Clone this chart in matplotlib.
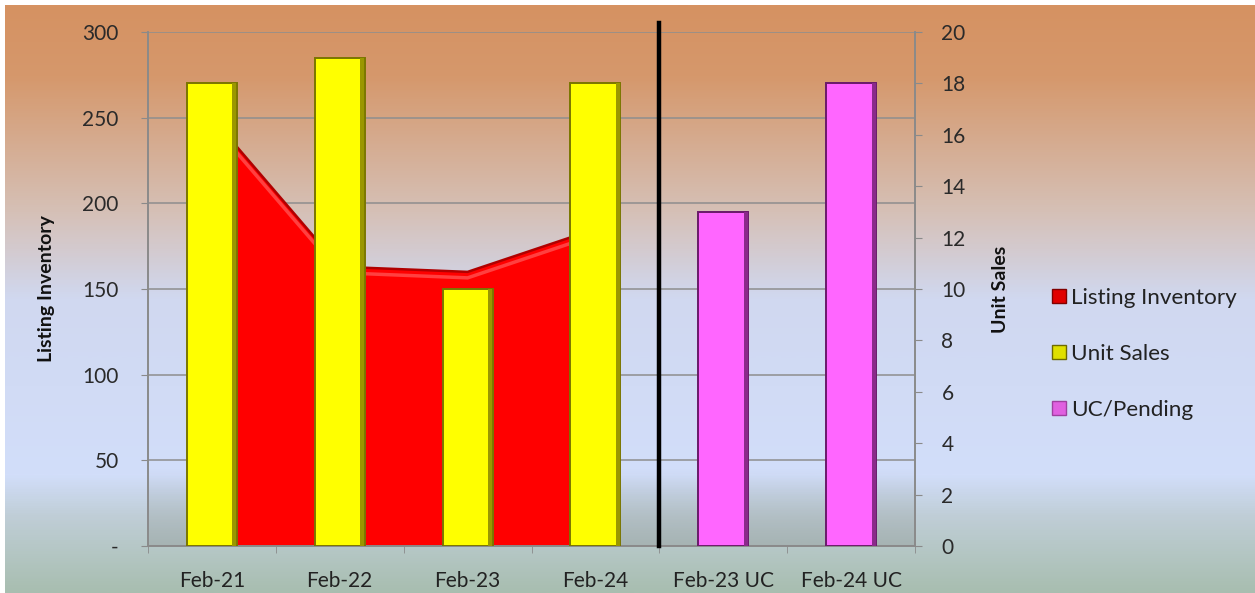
import numpy as np
import matplotlib
matplotlib.use("Agg")
import matplotlib.pyplot as plt
from matplotlib.patches import Patch
from matplotlib.colors import LinearSegmentedColormap

# ---------------- data ----------------
categories = ["Feb-21", "Feb-22", "Feb-23", "Feb-24", "Feb-23 UC", "Feb-24 UC"]
listing_inventory = [250, 163, 160, 185]          # left axis, first four categories
unit_sales = [18, 19, 10, 18]                     # right axis, first four categories
uc_pending = [13, 18]                             # right axis, last two categories
left_ticks = [0, 50, 100, 150, 200, 250, 300]
left_ticklabels = ["-", "50", "100", "150", "200", "250", "300"]
right_ticks = list(range(0, 21, 2))

plt.rcParams['font.family'] = ['Lato', 'DejaVu Sans']

W, H = 1255, 593
fig = plt.figure(figsize=(W / 100, H / 100), dpi=100)
fig.patch.set_facecolor("white")

# ---------------- background gradient ----------------
bg = fig.add_axes([5 / W, 0, 1 - 5 / W, 1 - 5 / H], zorder=-10)
stops = [
    (0.00, (214, 146, 98)),
    (0.12, (213, 152, 108)),
    (0.35, (214, 192, 182)),
    (0.50, (208, 216, 240)),
    (0.80, (210, 222, 250)),
    (0.87, (192, 206, 215)),
    (1.00, (168, 190, 176)),
]
cmap_bg = LinearSegmentedColormap.from_list(
    "bg", [(p, tuple(c / 255 for c in col)) for p, col in stops])
grad = np.linspace(0, 1, 600).reshape(-1, 1)
bg.imshow(grad, aspect="auto", cmap=cmap_bg, extent=[0, 1, 0, 1], origin="upper")
bg.set_axis_off()

# ---------------- main axes ----------------
L, R, B, T = 148 / W, 915 / W, 1 - 546 / H, 1 - 32 / H
ax1 = fig.add_axes([L, B, R - L, T - B])
ax1.set_facecolor("none")
ax2 = ax1.twinx()
ax2.set_facecolor("none")

x = np.arange(len(categories))

# subtle darker band at bottom of plot area
shade = np.zeros((100, 2, 4))
shade[..., 0] = 0.60
shade[..., 1] = 0.64
shade[..., 2] = 0.64
shade[..., 3] = np.linspace(0.55, 0.0, 100)[:, None]
ax1.imshow(shade, aspect="auto", extent=[-0.5, len(categories) - 0.5, 0, 45],
           origin="lower", zorder=0)
ax1.set_xlim(-0.5, len(categories) - 0.5)
ax1.set_ylim(0, 300)
ax2.set_ylim(0, 20)

# gridlines
ax1.set_yticks(left_ticks)
ax1.set_yticklabels(left_ticklabels)
ax1.grid(axis="y", color="#8e8e8e", linewidth=1.1, zorder=0.5)
ax1.set_axisbelow(True)

# area for listing inventory
xa = x[:len(listing_inventory)]
ax1.fill_between(xa, 0, listing_inventory, facecolor="#FF0000", edgecolor="none", zorder=2)
ax1.plot(xa, listing_inventory, color="#B00000", linewidth=1.8, zorder=2.1)
ax1.plot(xa, np.array(listing_inventory) - 3.5, color="#FF4040", linewidth=2.5, zorder=2.2)

# bars
bw = 0.39
xs = x[:len(unit_sales)]
xu = x[len(unit_sales):len(unit_sales) + len(uc_pending)]
ax2.bar(xs, unit_sales, width=bw, color="#FFFF00", edgecolor="#7A7600", linewidth=1.4, zorder=3)
ax2.bar(xu, uc_pending, width=bw, color="#FF66FF", edgecolor="#6A1A6A", linewidth=1.4, zorder=3)
# 3D-ish darker right side
ax2.bar(xs + bw * 0.45, unit_sales, width=bw * 0.08, color="#9A9700", edgecolor="none", zorder=3.1)
ax2.bar(xu + bw * 0.45, uc_pending, width=bw * 0.08, color="#8A2A8A", edgecolor="none", zorder=3.1)

# separator line
ax2.plot([3.5, 3.5], [0, 20.35], color="black", linewidth=3.2, clip_on=False, zorder=5)

# ---------------- axes styling ----------------
for ax in (ax1, ax2):
    ax.spines["top"].set_visible(False)
    for s in ("left", "right", "bottom"):
        ax.spines[s].set_color("#8a8a8a")
        ax.spines[s].set_linewidth(1.2)

ax1.set_xticks(x)
ax1.set_xticklabels(categories)
ax1.set_xticks(np.arange(-0.5, len(categories), 1.0), minor=True)
ax1.tick_params(axis="x", which="major", length=0, pad=18, labelsize=15, labelcolor="#222222")
ax1.tick_params(axis="x", which="minor", length=5, color="#8a8a8a", direction="out")
ax1.tick_params(axis="y", length=5, color="#8a8a8a", direction="out", labelsize=15,
                labelcolor="#2a2a2a", pad=16)

ax2.set_yticks(right_ticks)
ax2.tick_params(axis="y", length=5, color="#8a8a8a", direction="out", labelsize=15,
                labelcolor="#2a2a2a", pad=14)

ax1.set_ylabel("Listing Inventory", fontsize=14, fontweight="bold", color="#111111")
ax2.set_ylabel("Unit Sales", fontsize=14, fontweight="bold", color="#111111")
ax1.yaxis.set_label_coords((55 - 148) / (915 - 148), 0.5)
ax2.yaxis.set_label_coords((992 - 148) / (915 - 148), 0.5)

# ---------------- legend ----------------
handles = [
    Patch(facecolor="#E00000", edgecolor="#800000"),
    Patch(facecolor="#E0E000", edgecolor="#6E6A00"),
    Patch(facecolor="#E060E0", edgecolor="#A040A0"),
]
labels = ["Listing Inventory", "Unit Sales", "UC/Pending"]
fig.legend(handles, labels, loc="upper left", bbox_to_anchor=(1032 / W, 1 - 268 / H),
           frameon=False, fontsize=16.2, handlelength=0.6, handleheight=0.6,
           handletextpad=0.25, labelspacing=1.6, labelcolor="#222222")

fig.savefig("out.png", dpi=100)
